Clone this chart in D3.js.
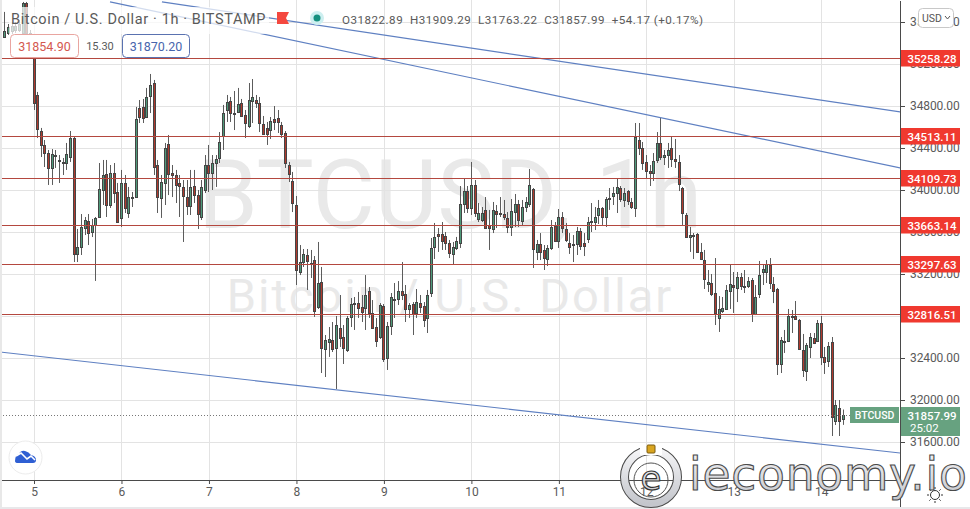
<!DOCTYPE html>
<html>
<head>
<meta charset="utf-8">
<script src="https://d3js.org/d3.v7.min.js"></script>
<style>
  html, body { margin: 0; padding: 0; background: #fff; overflow: hidden; }
  svg { display: block; }
  text { font-family: Roboto, "Liberation Sans", sans-serif; }
</style>
</head>
<body>
<script>
// hourly candles, first one is 8 bars before the "5" tick
var firstBar = -8;
var opens = [35458,35496,35515,35524,35524,35496,35781,35496,
  35257,34905,34561,34428,34352,34210,34333,34286,34267,34257,34314,34495,33391,33457,33638,33705,33600,33666,33743,34000,34153,33857,34162,33981,
  33734,34067,33781,33933,33933,34781,34791,34695,34895,35019,34238,33924,34067,34438,34162,34143,34067,34029,33933,33848,34038,33952,33743,34000,
  34238,34162,34257,34305,34514,34762,34848,34733,34743,34829,34714,34610,34848,34857,34829,34629,34590,34571,34676,34686,34619,34542,34238,34086,
  33857,33219,33314,33381,33305,33333,32885,33124,32486,32552,32571,32495,32686,32600,32476,32790,32923,32923,32885,32876,33038,32829,32695,32600,
  32895,32400,32705,32952,32962,33038,33010,32866,32914,32829,32923,32895,32781,33019,33457,33581,33581,33562,33495,33391,33448,33495,33867,33990,
  33828,34048,33724,33714,33810,33666,33628,33800,33781,33771,33734,33647,33790,33867,33705,33838,33867,34010,33410,33486,33429,33343,33448,33657,
  33514,33743,33628,33495,33486,33486,33610,33495,33533,33695,33695,33762,33828,33743,33924,33943,33971,34019,33905,33990,33886,33828,34476,34400,
  34267,34181,34162,34286,34447,34314,34333,34400,34295,34267,34019,33762,33553,33572,33581,33410,33333,33105,33114,33019,32781,32847,32866,33038,
  33095,33067,33171,33086,33086,33143,32819,33010,33219,33219,33286,33105,33057,32343,32562,32562,32790,32800,32762,32476,32276,32505,32590,32562,
  32733,32410,32371,32552,31800,31924,31822.89];
var highs = [35696,35581,35600,35600,35619,35791,35791,35524,
  35276,34934,34591,34476,34381,34390,34381,34333,34305,34448,34562,34514,33629,33771,33743,33771,33724,33743,34257,34286,34286,34238,34257,34067,
  34191,34143,34029,33981,34791,34857,34867,34972,35105,35048,34286,34143,34448,34524,34238,34191,34143,34095,34095,34191,34191,34000,34095,34333,
  34429,34333,34333,34552,34810,34905,34886,34943,34972,34867,34762,35019,35057,34905,34886,34705,34648,34695,34800,34762,34648,34562,34267,34172,
  33943,33476,33438,33438,33429,33371,33505,33267,32619,32695,32743,32800,33000,32714,32800,32971,32981,33029,33000,33190,33076,32952,32781,32923,
  32914,32743,33019,33114,33133,33314,33095,32923,32933,33057,33000,32933,33048,33543,33686,33638,33695,33600,33524,33505,33553,34038,34114,34038,
  34267,34095,33876,33838,33933,33810,33886,33857,33933,33905,33790,33914,33962,33905,33905,33933,34200,34019,33524,33590,33476,33476,33714,33695,
  33819,33790,33686,33590,33571,33648,33638,33590,33743,33876,33838,33905,33838,33933,34019,34029,34105,34038,34019,34000,33924,34638,34638,34457,
  34333,34238,34352,34552,34686,34381,34448,34505,34486,34333,34029,33781,33648,33590,33590,33495,33429,33238,33200,33352,32990,32981,33095,33286,
  33219,33219,33210,33238,33171,33162,33095,33324,33286,33333,33352,33171,33067,32600,32667,32867,32857,32943,32771,32629,32543,32638,32638,32762,
  32800,32505,32552,32600,32000,32000,31909.29];
var lows = [35448,35477,35486,35496,35505,35477,35467,35257,
  34762,34495,34314,34219,34048,34048,34210,34067,34143,34191,34267,33314,33314,33381,33571,33476,33552,33134,33734,33857,33743,33829,33876,33695,
  33648,33781,33734,33838,33924,34638,34638,34686,34733,34143,33781,33734,33857,33952,33933,33876,33743,33505,33762,33762,33876,33629,33714,33971,
  33981,34000,34029,34257,34381,34648,34648,34571,34733,34695,34495,34590,34638,34781,34552,34524,34429,34486,34571,34543,34495,34210,34076,33790,
  33095,33190,33267,33048,33162,32791,32867,32257,32219,32410,32457,32105,32505,32343,32457,32695,32667,32781,32743,32667,32781,32677,32505,32581,
  32362,32286,32619,32781,32905,32952,32743,32781,32619,32781,32829,32695,32638,32981,33343,33410,33429,33429,33352,33286,33429,33448,33781,33781,
  33762,33743,33695,33695,33629,33429,33590,33638,33743,33714,33590,33562,33648,33648,33657,33790,33838,33257,33333,33333,33238,33276,33429,33505,
  33448,33590,33505,33391,33314,33381,33429,33371,33495,33600,33619,33676,33667,33648,33810,33857,33781,33886,33838,33857,33819,33743,34333,34191,
  34105,34038,34086,34257,34286,34238,34210,34219,34210,33990,33667,33543,33410,33343,33400,33333,33057,33029,32990,32714,32648,32829,32857,32867,
  32829,32933,33048,33019,33067,32743,32809,32971,33095,33114,33057,32923,32238,32257,32448,32552,32638,32762,32476,32219,32181,32400,32533,32552,
  32333,32248,32314,31657,31762,31657,31763.22];
var closes = [35515,35553,35562,35562,35581,35781,35496,35267,
  34829,34581,34429,34352,34210,34343,34324,34277,34257,34343,34495,33391,33457,33648,33714,33590,33666,33734,34010,34143,33857,34162,33971,33695,
  34067,33828,33933,33924,34676,34695,34686,34886,35000,34219,33933,34076,34400,34153,34143,34048,34038,33943,33848,34029,33952,33771,34029,34238,
  34162,34257,34295,34457,34733,34838,34733,34724,34819,34705,34638,34857,34886,34829,34638,34533,34533,34657,34648,34648,34533,34257,34153,33876,
  33238,33314,33391,33324,33295,32847,33114,32495,32571,32581,32486,32714,32590,32495,32781,32914,32914,32876,32838,33000,32829,32686,32562,32905,
  32390,32705,32981,32962,33038,33000,32866,32905,32819,32933,32885,32762,33000,33448,33553,33562,33514,33495,33400,33457,33514,33867,33990,33828,
  34048,33781,33781,33781,33638,33638,33810,33771,33771,33743,33647,33800,33867,33714,33838,33886,34048,33438,33486,33410,33352,33448,33647,33514,
  33743,33638,33524,33457,33476,33610,33467,33467,33695,33705,33743,33828,33743,33914,33914,33971,34029,33914,33971,33895,33838,34505,34400,34257,
  34181,34162,34276,34447,34314,34333,34381,34295,34276,34057,33781,33553,33572,33562,33410,33343,33152,33124,33010,32829,32866,32876,33048,33105,
  33076,33171,33086,33076,33133,32819,32981,33190,33248,33295,33114,33038,32343,32571,32552,32800,32800,32771,32486,32286,32524,32600,32543,32733,
  32410,32362,32514,31838,31952,31800,31857.99];

var dayBars = [0, 24, 48, 72, 96, 120, 144, 168, 192, 216];
var dayLabels = ["5", "6", "7", "8", "9", "10", "11", "12", "13", "14"];
var priceTicks = [31600, 32000, 32400, 32800, 33200, 33600, 34000, 34400, 34800, 35200, 35600];
var levels = [35258.28, 34513.11, 34109.73, 33663.14, 33297.63, 32816.51];
var lastPrice = 31857.99;

// trend lines as [bar, price] pairs
var trendLines = [
  [[35.1, 35791], [237.6, 34743]],
  [[20.85, 35791], [237.6, 34210]],
  [[-9.33, 32457], [237.6, 31495]]
];

var width = 970, height = 509, plotRight = 900, plotBottom = 480;
var upFill = "#4f9a7a", downFill = "#b03a2e", candleLine = "#454545", wickColor = "#5c5c5c";
var levelColor = "#b4483f", levelFill = "#f0392f", lastFill = "#67a280", textColor = "#5a5a5a";

var candles = d3.range(opens.length).map(function (i) {
  return { bar: firstBar + i, o: opens[i], h: highs[i], l: lows[i], c: closes[i] };
});

var x = d3.scaleLinear().domain([0, 216]).range([34, 34 + 216 * 3.645]);
var y = d3.scaleLinear().domain([31600, 34800]).range([442, 106]);

var svg = d3.select("body").append("svg").attr("width", width).attr("height", height);
var defs = svg.append("defs");
defs.append("clipPath").attr("id", "plot").append("rect")
  .attr("x", 0).attr("y", 0).attr("width", plotRight).attr("height", plotBottom);
var silver = defs.append("linearGradient").attr("id", "silver")
  .attr("x1", 0).attr("y1", 0).attr("x2", 0).attr("y2", 1);
silver.append("stop").attr("offset", 0).attr("stop-color", "#f4f4f6");
silver.append("stop").attr("offset", 1).attr("stop-color", "#c4c6cc");

svg.append("rect").attr("width", width).attr("height", height).attr("fill", "#fff");

// watermark
var mark = svg.append("g").attr("fill", "#e9e9e9").attr("text-anchor", "middle");
mark.append("text").attr("x", 450).attr("y", 228).attr("font-size", 96).text("BTCUSD, 1h");
mark.append("text").attr("x", 450).attr("y", 312).attr("font-size", 47).attr("letter-spacing", 2)
  .text("Bitcoin / U.S. Dollar");

// grid
var grid = svg.append("g").attr("stroke", "#e3e3e3").attr("stroke-width", 1);
grid.selectAll("line.v").data(dayBars).join("line").attr("class", "v")
  .attr("x1", function (d) { return Math.round(x(d)) + 0.5; })
  .attr("x2", function (d) { return Math.round(x(d)) + 0.5; })
  .attr("y1", 0).attr("y2", plotBottom);
grid.selectAll("line.h").data(priceTicks).join("line").attr("class", "h")
  .attr("x1", 0).attr("x2", plotRight)
  .attr("y1", function (d) { return Math.round(y(d)) + 0.5; })
  .attr("y2", function (d) { return Math.round(y(d)) + 0.5; });

// candles
var plot = svg.append("g").attr("clip-path", "url(#plot)");
var bar = plot.selectAll("g.candle").data(candles).join("g").attr("class", "candle");
function px(d) { return Math.round(x(d.bar) - 0.5); }
bar.append("line")
  .attr("x1", function (d) { return px(d) + 0.5; })
  .attr("x2", function (d) { return px(d) + 0.5; })
  .attr("y1", function (d) { return y(d.h); })
  .attr("y2", function (d) { return y(d.l); })
  .attr("stroke", wickColor);
bar.append("rect")
  .attr("x", function (d) { return px(d) - 0.5; })
  .attr("width", 2)
  .attr("y", function (d) { return Math.round(y(Math.max(d.o, d.c))) + 0.5; })
  .attr("height", function (d) {
    return Math.max(0, Math.round(y(Math.min(d.o, d.c))) - Math.round(y(Math.max(d.o, d.c))));
  })
  .attr("fill", function (d) { return d.c >= d.o ? upFill : downFill; })
  .attr("stroke", candleLine).attr("stroke-width", 1);

// last price dotted line
plot.append("line").attr("x1", 0).attr("x2", 850)
  .attr("y1", Math.round(y(lastPrice)) + 0.5).attr("y2", Math.round(y(lastPrice)) + 0.5)
  .attr("stroke", "#777").attr("stroke-dasharray", "1 2");

// trend lines
var trend = d3.line().x(function (d) { return x(d[0]); }).y(function (d) { return y(d[1]); });
plot.selectAll("path.trend").data(trendLines).join("path").attr("class", "trend")
  .attr("d", trend).attr("fill", "none").attr("stroke", "#5f80c2").attr("stroke-width", 1.2);

// horizontal levels
plot.selectAll("line.level").data(levels).join("line").attr("class", "level")
  .attr("x1", 0).attr("x2", plotRight)
  .attr("y1", function (d) { return Math.round(y(d)) + 0.5; })
  .attr("y2", function (d) { return Math.round(y(d)) + 0.5; })
  .attr("stroke", levelColor).attr("stroke-width", 1);

// legend strip over the first candles
svg.append("rect").attr("x", 9).attr("y", 7).attr("width", 260).attr("height", 27)
  .attr("fill", "#fff").attr("opacity", 0.72);
svg.append("text").attr("x", 11).attr("y", 24).attr("font-size", 14.5).attr("fill", "#5a5a5a")
  .attr("letter-spacing", 0.62).text("Bitcoin / U.S. Dollar · 1h · BITSTAMP");
svg.append("path").attr("d", "M277 12H289L286 18L289 24H277Z").attr("fill", "#f4483f");
svg.append("circle").attr("cx", 317).attr("cy", 18).attr("r", 7).attr("fill", "#cdeff0");
svg.append("circle").attr("cx", 317).attr("cy", 18).attr("r", 3.5).attr("fill", "#16907f");
svg.append("text").attr("x", 342).attr("y", 24).attr("font-size", 11.6).attr("fill", "#5a5a5a")
  .attr("xml:space", "preserve").attr("letter-spacing", 0.5)
  .text("O31822.89  H31909.29  L31763.22  C31857.99  +54.17 (+0.17%)");

// sell / buy boxes
svg.append("rect").attr("x", 10.5).attr("y", 34.5).attr("width", 68).attr("height", 23).attr("rx", 4)
  .attr("fill", "#fff").attr("stroke", "#e9a5a0");
svg.append("text").attr("x", 44.5).attr("y", 51).attr("text-anchor", "middle").attr("font-size", 12.5)
  .attr("fill", "#d4584f").text("31854.90");
svg.append("text").attr("x", 100).attr("y", 50).attr("text-anchor", "middle").attr("font-size", 11)
  .attr("fill", textColor).text("15.30");
svg.append("rect").attr("x", 122.5).attr("y", 34.5).attr("width", 67).attr("height", 23).attr("rx", 4)
  .attr("fill", "#fff").attr("stroke", "#5a72b0");
svg.append("text").attr("x", 156).attr("y", 51).attr("text-anchor", "middle").attr("font-size", 12.5)
  .attr("fill", "#4765ad").text("31870.20");

// price axis
var yAxis = svg.append("g").attr("transform", "translate(" + plotRight + ",0)")
  .call(d3.axisRight(y).tickValues(priceTicks).tickFormat(d3.format(".2f")).tickSize(5).tickPadding(5));
yAxis.select(".domain").remove();
yAxis.append("line").attr("x1", 0.5).attr("x2", 0.5).attr("y1", 1).attr("y2", 509).attr("stroke", "#4a4a4a");
yAxis.selectAll(".tick line").attr("stroke", "#4a4a4a");
yAxis.selectAll(".tick text").attr("font-size", 12).attr("fill", textColor)
  .style("font-family", "Roboto, sans-serif").attr("letter-spacing", -0.1);

// day axis
var xAxis = svg.append("g").attr("transform", "translate(0," + plotBottom + ")")
  .call(d3.axisBottom(x).tickValues(dayBars)
    .tickFormat(function (d, i) { return dayLabels[i]; }).tickSize(4).tickPadding(3).tickSizeOuter(0));
xAxis.select(".domain").remove();
xAxis.append("line").attr("x1", 0).attr("x2", plotRight).attr("y1", 0.5).attr("y2", 0.5).attr("stroke", "#4a4a4a");
xAxis.selectAll(".tick line").attr("stroke", "#4a4a4a");
xAxis.selectAll(".tick text").attr("font-size", 12).attr("fill", textColor)
  .style("font-family", "Roboto, sans-serif");

// level tags on the price axis
var tags = svg.selectAll("g.tag").data(levels).join("g").attr("class", "tag")
  .attr("transform", function (d) { return "translate(" + (plotRight + 1) + "," + Math.round(y(d)) + ")"; });
tags.append("rect").attr("x", 0).attr("y", -8).attr("width", 59).attr("height", 16.5).attr("fill", levelFill);
tags.append("text").attr("x", 31).attr("y", 4.5).attr("text-anchor", "middle").attr("font-size", 11.5)
  .attr("font-weight", 500).attr("fill", "#fff").text(function (d) { return d3.format(".2f")(d); });

// last price tag
var ly = Math.round(y(lastPrice));
svg.append("rect").attr("x", plotRight + 1).attr("y", ly - 8).attr("width", 59).attr("height", 29).attr("fill", lastFill);
svg.append("rect").attr("x", 850).attr("y", ly - 8).attr("width", 49).attr("height", 16).attr("fill", lastFill);
svg.append("text").attr("x", 874.5).attr("y", ly + 4).attr("text-anchor", "middle").attr("font-size", 10.5)
  .attr("font-weight", 500).attr("fill", "#fff").text("BTCUSD");
svg.append("text").attr("x", 932).attr("y", ly + 4.5).attr("text-anchor", "middle").attr("font-size", 11.5)
  .attr("font-weight", 500).attr("fill", "#fff").text(d3.format(".2f")(lastPrice));
svg.append("text").attr("x", 910).attr("y", ly + 17).attr("font-size", 11.5)
  .attr("fill", "#fff").text("25:02");

// currency button
svg.append("rect").attr("x", 918.5).attr("y", 8.5).attr("width", 35).attr("height", 19).attr("rx", 4)
  .attr("fill", "#fff").attr("stroke", "#c8c8c8");
svg.append("text").attr("x", 922).attr("y", 22).attr("font-size", 10.5).attr("fill", "#555").text("USD");
svg.append("path").attr("d", "M945 16L947.5 19L950 16").attr("fill", "none").attr("stroke", "#555");

// tv badge
svg.append("circle").attr("cx", 25.5).attr("cy", 457.5).attr("r", 16.5).attr("fill", "#fff").attr("stroke", "#ececec");
svg.append("path")
  .attr("d", "M15 461Q15 455 19 454Q21 450 25 451Q29 452 31 455Q36 456 36 460Q36 463 33 463H18Q15 463 15 461Z")
  .attr("fill", "#2f5fd3");
svg.append("path").attr("d", "M16 456L21 453L27 459L31 456L35 460").attr("fill", "none")
  .attr("stroke", "#fff").attr("stroke-width", 1.6);

// page edges
svg.append("rect").attr("x", 0).attr("y", 0).attr("width", 2).attr("height", height).attr("fill", "#e8e8e8");
svg.append("rect").attr("x", 0).attr("y", 507).attr("width", width).attr("height", 2).attr("fill", "#e8e8ea");

// theme sun
var sun = svg.append("g").attr("transform", "translate(935,495)").attr("stroke", "#333").attr("fill", "#fff");
sun.append("circle").attr("r", 4.5);
sun.selectAll("line").data(d3.range(8)).join("line")
  .attr("x1", function (d) { return 6 * Math.cos(d * Math.PI / 4); })
  .attr("y1", function (d) { return 6 * Math.sin(d * Math.PI / 4); })
  .attr("x2", function (d) { return 8 * Math.cos(d * Math.PI / 4); })
  .attr("y2", function (d) { return 8 * Math.sin(d * Math.PI / 4); });

// ieconomy.io stamp
var logo = svg.append("g");
logo.append("circle").attr("cx", 651).attr("cy", 477).attr("r", 26.5).attr("fill", "none")
  .attr("stroke", "#4a4a4a").attr("stroke-width", 9);
logo.append("circle").attr("cx", 651).attr("cy", 477).attr("r", 26.5).attr("fill", "none")
  .attr("stroke", "url(#silver)").attr("stroke-width", 7);
logo.append("circle").attr("cx", 651).attr("cy", 480).attr("r", 17).attr("fill", "none")
  .attr("stroke", "#555").attr("stroke-width", 1);
logo.append("rect").attr("x", 640).attr("y", 445).attr("width", 22).attr("height", 10).attr("fill", "#fff");
logo.append("text").attr("x", 651).attr("y", 490).attr("text-anchor", "middle").attr("font-size", 34)
  .style("font-family", "'DejaVu Sans'").attr("fill", "url(#silver)").attr("stroke", "#333").attr("stroke-width", 1.1)
  .text("e");
logo.append("rect").attr("x", 647).attr("y", 445).attr("width", 8).attr("height", 8).attr("rx", 1)
  .attr("fill", "#d9a520").attr("stroke", "#7a5a10");
logo.append("text").attr("x", 689).attr("y", 490).attr("font-size", 45.5).attr("letter-spacing", 0.8)
  .style("font-family", "'DejaVu Sans'").attr("fill", "url(#silver)").attr("stroke", "#4a4a4a").attr("stroke-width", 1.1)
  .text("ieconomy.io");
</script>
</body>
</html>
